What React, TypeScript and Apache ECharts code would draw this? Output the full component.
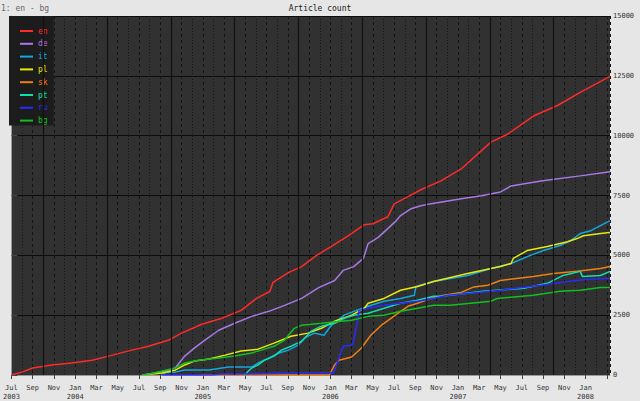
import React, { useEffect, useRef } from 'react';
import * as echarts from 'echarts';

// x values are months counted from Jul 2003 (0 = Jul 2003)
const START_YEAR = 2003;
const START_MONTH = 6;
const MONTHS = ['Jan', 'Feb', 'Mar', 'Apr', 'May', 'Jun', 'Jul', 'Aug', 'Sep', 'Oct', 'Nov', 'Dec'];
const X_MAX = 56.3;

const Y_TICKS = [0, 2500, 5000, 7500, 10000, 12500, 15000];

const LANGS = ['en', 'de', 'it', 'pl', 'sk', 'pt', 'ru', 'bg'];
const COLORS = ['#ff2a2a', '#a878e8', '#10a8e0', '#e8e810', '#f08010', '#10e0b0', '#2a2aff', '#10c020'];

const EN = [
  [0, 0], [1, 120], [2, 290], [3.8, 420], [5.7, 500], [7.6, 620], [9.5, 830], [11.3, 1040],
  [12.9, 1200], [14.8, 1460], [16, 1750], [17.9, 2120], [19.8, 2370], [21.6, 2700], [23.05, 3200],
  [24.3, 3490], [24.6, 3870], [26.05, 4280], [27.3, 4530], [28.7, 5000], [30.1, 5370], [31.7, 5820],
  [33.2, 6280], [34, 6320], [35.4, 6610], [36, 7150], [37.3, 7450], [38.5, 7740], [40.4, 8110],
  [42.3, 8610], [45.1, 9730], [46.7, 10070], [49.1, 10820], [51.4, 11270], [53.5, 11810], [56.3, 12480],
];
const DE = [
  [12.5, 0], [14.8, 200], [15.4, 290], [16.3, 790], [17.2, 1120], [18.2, 1460], [19.5, 1870],
  [21, 2160], [22.6, 2450], [24.2, 2660], [25.7, 2910], [27.3, 3200], [28.9, 3650], [30.4, 3950],
  [31.2, 4370], [32.2, 4530], [33.1, 4870], [33.55, 5490], [34.5, 5750], [35.7, 6240], [36.2, 6450],
  [36.6, 6660], [37.6, 6950], [38.5, 7070], [39.5, 7160], [42.3, 7360], [44.2, 7490], [46, 7650],
  [47, 7900], [49.8, 8110], [53.5, 8320], [56.3, 8490],
];
const IT = [
  [14.15, 0], [14.5, 100], [15.4, 120], [16.3, 210], [18.6, 210], [20.4, 330], [22.6, 330],
  [23.2, 500], [24.2, 700], [25.1, 910], [26.05, 1040], [27, 1250], [27.55, 1540], [28.5, 1750],
  [29.4, 1660], [30.1, 2080], [31.3, 2500], [32.2, 2660], [33.55, 2870], [35.05, 3080], [36.6, 3200],
  [37.9, 3330], [38.05, 3700], [39.7, 3910], [42.9, 4160], [45.1, 4450], [47, 4660], [48.8, 5000],
  [50.05, 5200], [51.6, 5410], [52.6, 5620], [53.5, 5910], [54.5, 6030], [55.4, 6240], [56.3, 6450],
];
const PL = [
  [12.3, 0], [14.15, 80], [15.4, 200], [16.3, 420], [17.2, 580], [18.6, 670], [20.1, 830],
  [21.6, 1000], [23.2, 1080], [24.7, 1330], [26.3, 1620], [27.9, 1750], [29.15, 1950], [30.4, 2250],
  [32, 2500], [33.2, 2790], [33.55, 3000], [35.05, 3200], [36.6, 3540], [38.2, 3700], [39.7, 3910],
  [42.9, 4240], [46, 4530], [47, 4660], [47.2, 4870], [48.5, 5200], [50.4, 5370], [52.3, 5570],
  [53.2, 5700], [53.8, 5820], [55.4, 5910], [56.3, 5950],
];
const SK = [
  [17.9, 0], [29.9, 0], [30.4, 420], [30.8, 620], [32, 750], [32.9, 1120], [33.8, 1660],
  [34.8, 2080], [35.7, 2370], [36.6, 2660], [37.3, 2870], [38.2, 3000], [39.5, 3200], [40.7, 3330],
  [42.3, 3450], [43.5, 3680], [44.8, 3750], [46, 3950], [49.1, 4120], [51, 4240], [53.2, 4330],
  [55.4, 4450], [56.3, 4530],
];
const PT = [
  [21.9, 0], [22.6, 290], [23.2, 420], [23.8, 620], [24.7, 790], [25.4, 1040], [26.3, 1200],
  [27.3, 1410], [28.2, 1830], [29.15, 2040], [30.4, 2160], [31.3, 2370], [32.2, 2500], [33.55, 2580],
  [35.05, 2790], [36.6, 3000], [38.2, 3120], [39.7, 3290], [40.4, 3290], [44.4, 3500], [48.2, 3620],
  [50.4, 3830], [51.9, 4160], [53.5, 4330], [53.7, 4120], [55.4, 4160], [56.3, 4330],
];
const RU = [
  [14.15, 0], [18.8, 0], [19.8, 40], [27.3, 80], [30.3, 80], [31.2, 1200], [32.1, 1250],
  [32.6, 2370], [32.7, 2700], [33.55, 2790], [35.05, 2910], [36.6, 3000], [38.2, 3080], [39.7, 3200],
  [41.05, 3330], [42.9, 3410], [46, 3540], [49.8, 3750], [52.3, 3910], [54.2, 4000], [56.3, 4040],
];
const BG = [
  [12.3, 0], [13.2, 60], [15.4, 290], [16.3, 500], [17.6, 620], [19.5, 710], [21, 790],
  [22.6, 920], [23.5, 1040], [24.7, 1200], [25.7, 1460], [26.6, 1950], [27.3, 2080], [29.15, 2160],
  [31, 2250], [32, 2290], [33.55, 2450], [35.05, 2500], [36.6, 2660], [38.2, 2790], [39.7, 2910],
  [41.3, 2910], [45.1, 3080], [45.7, 3200], [49.1, 3330], [51.6, 3500], [53.5, 3540], [55.4, 3660],
  [56.3, 3660],
];
const SERIES_DATA = [EN, DE, IT, PL, SK, PT, RU, BG];

// Oct / Apr months get a solid grid line
const HALF_YEAR_LINES = [3, 9, 15, 21, 27, 33, 39, 45, 51];

const MONO = '"DejaVu Sans Mono", "Liberation Mono", monospace';

const monthLabel = (v: number) => {
  if (v > 55) return '';
  const m = Math.round(v);
  const abs = START_MONTH + m;
  const name = MONTHS[abs % 12];
  const year = START_YEAR + Math.floor(abs / 12);
  return abs % 12 === 0 || m === 0 ? `${name}\n${year}` : name;
};

const App: React.FC = () => {
  const chartRef = useRef<HTMLDivElement>(null);

  useEffect(() => {
    if (!chartRef.current) return;
    document.body.style.margin = '0';
    const chart = echarts.init(chartRef.current, undefined, { renderer: 'svg' });

    const option: any = {
      animation: false,
      backgroundColor: '#e6e6e6',
      title: [
        {
          text: 'Article count',
          left: 'center',
          top: 4,
          padding: 0,
          textStyle: { fontFamily: MONO, fontSize: 8, fontWeight: 'normal', color: '#222' },
        },
        {
          text: '1: en - bg',
          left: 1,
          top: 4,
          padding: 0,
          textStyle: { fontFamily: MONO, fontSize: 8, fontWeight: 'normal', color: '#666' },
        },
      ],
      legend: {
        orient: 'vertical',
        left: 9,
        top: 16,
        padding: [10, 6, 0, 11],
        backgroundColor: '#1c1c1c',
        icon: 'rect',
        itemWidth: 13,
        itemHeight: 2,
        itemGap: 2.8,
        itemTextGap: 4,
        selectedMode: false,
        textStyle: { fontFamily: MONO, fontSize: 8, lineHeight: 10 },
        data: LANGS.map((name, i) => ({ name, textStyle: { color: COLORS[i] } })),
      },
      grid: {
        left: 9,
        right: 30,
        top: 16,
        bottom: 24,
        show: true,
        backgroundColor: '#313131',
        borderWidth: 0,
      },
      xAxis: {
        type: 'value',
        min: 0,
        max: X_MAX,
        interval: 2,
        axisLine: { show: true, lineStyle: { color: '#999' } },
        axisTick: { show: true, length: 4, lineStyle: { color: '#444' } },
        axisLabel: {
          formatter: monthLabel,
          showMaxLabel: false,
          fontFamily: MONO,
          fontSize: 7,
          lineHeight: 9,
          color: '#333',
          margin: 8,
        },
        splitLine: { show: true, lineStyle: { color: '#141414', type: [3, 3] } },
        minorTick: { show: false, splitNumber: 2 },
        minorSplitLine: { show: true, lineStyle: { color: '#141414', type: [1, 2] } },
      },
      yAxis: {
        type: 'value',
        position: 'right',
        min: Y_TICKS[0],
        max: Y_TICKS[Y_TICKS.length - 1],
        interval: 2500,
        axisLine: { show: true, lineStyle: { color: '#999' } },
        axisTick: { show: true, length: 6, lineStyle: { color: '#444' } },
        axisLabel: {
          formatter: (v: number) => String(v),
          fontFamily: MONO,
          fontSize: 7,
          color: '#333',
          margin: 3,
        },
        splitLine: { show: true, lineStyle: { color: '#0c0c0c', width: 1 } },
      },
      series: [
        {
          name: 'grid',
          type: 'line',
          data: [[0, 0]],
          symbol: 'none',
          lineStyle: { opacity: 0 },
          z: 1,
          silent: true,
          markLine: {
            silent: true,
            symbol: 'none',
            label: { show: false },
            lineStyle: { color: '#111', type: 'solid', width: 1.2 },
            data: HALF_YEAR_LINES.map((v) => ({ xAxis: v })),
          },
        },
        ...LANGS.map((name, i) => ({
          name,
          type: 'line',
          data: SERIES_DATA[i],
          symbol: 'none',
          z: 3,
          color: COLORS[i],
          lineStyle: { color: COLORS[i], width: 1.5 },
        })),
      ],
    };

    chart.setOption(option);
    return () => chart.dispose();
  }, []);

  return (
    <div
      ref={chartRef}
      style={{ position: 'fixed', left: 0, top: 0, width: '640px', height: '401px' }}
    />
  );
};

export default App;
